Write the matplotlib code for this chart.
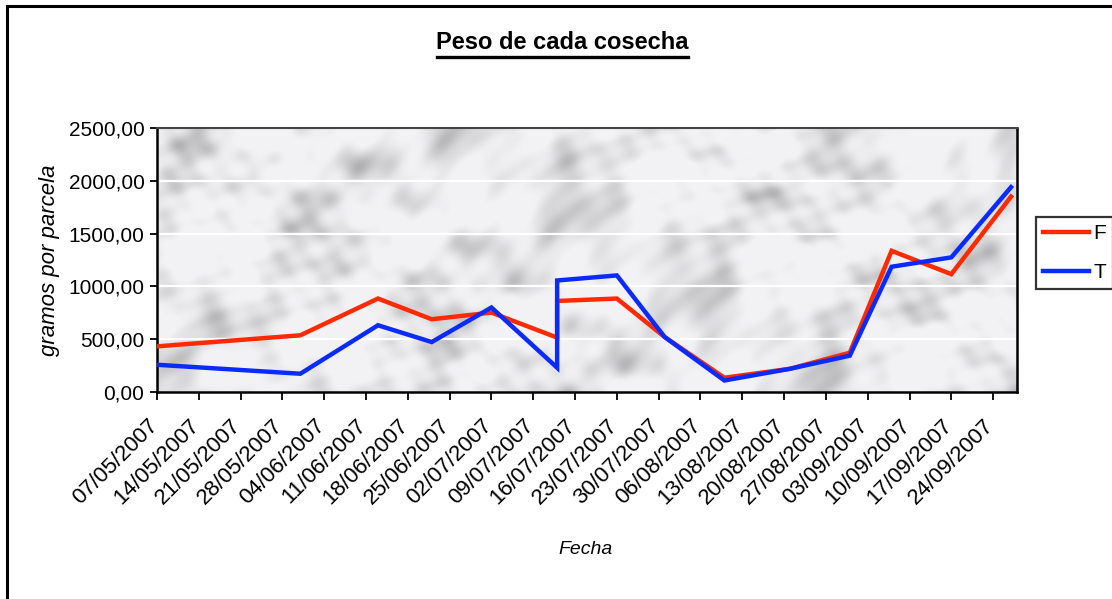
import numpy as np
import pandas as pd
import matplotlib
matplotlib.use('Agg')
import matplotlib.pyplot as plt
import matplotlib.transforms as mtransforms
from matplotlib.ticker import FuncFormatter
from matplotlib.patches import Rectangle
from matplotlib.lines import Line2D

plt.rcParams['font.family'] = ['Liberation Sans', 'DejaVu Sans']

# --- data ---
fechas = ['07/05/2007', '31/05/2007', '13/06/2007', '22/06/2007', '02/07/2007',
          '13/07/2007', '13/07/2007', '23/07/2007', '31/07/2007', '10/08/2007',
          '21/08/2007', '31/08/2007', '07/09/2007', '17/09/2007', '27/09/2007']
serie_F = [432, 537, 885, 689, 752, 515, 862, 885, 521, 135, 220, 372, 1337, 1116, 1850]
serie_T = [258, 173, 632, 473, 800, 230, 1056, 1104, 521, 109, 220, 344, 1186, 1275, 1940]
y_ticks = [0, 500, 1000, 1500, 2000, 2500]
primer_tick, ultimo_tick = '07/05/2007', '24/09/2007'

dates = pd.to_datetime(fechas, dayfirst=True)
tick_dates = pd.date_range(pd.to_datetime(primer_tick, dayfirst=True),
                           pd.to_datetime(ultimo_tick, dayfirst=True), freq='7D')

fig = plt.figure(figsize=(11.12, 5.99), dpi=100)
ax = fig.add_axes([157 / 1112, 1 - 392 / 599, (1017 - 157) / 1112, (392 - 128) / 599])

# marble-like background (decoration only, deterministic)
h, w = 264, 860
yy, xx = np.mgrid[0:h, 0:w].astype(float)
z = np.zeros_like(xx)
for k, (ang, per, amp) in enumerate([(0.8, 150, 1.0), (2.2, 100, 0.8), (0.5, 65, 0.7),
                                      (1.5, 45, 0.55), (2.7, 32, 0.4), (1.0, 22, 0.3)]):
    warp = 20 * np.sin(xx / (55 + 9 * k) - yy / (40 + 6 * k) + 0.9 * k)
    z += amp * np.sin((xx * np.cos(ang) + yy * np.sin(ang) + warp) * 2 * np.pi / per + k * 1.3)
z = (z - z.min()) / (z.max() - z.min())
dark = np.clip(z - 0.42, 0, None) / 0.58
tex = 0.95 - 0.26 * dark ** 1.5
rgb = np.dstack([tex, tex, tex + 0.012]).clip(0, 1)
ax.imshow(rgb, extent=[0, 1, 0, 1], transform=ax.transAxes, aspect='auto',
          zorder=0, interpolation='bilinear')

for yv in y_ticks[1:-1]:
    ax.axhline(yv, color='white', lw=1.6, zorder=1)

ax.plot(dates, serie_F, color='#ff2a00', lw=3.2, zorder=3, solid_joinstyle='miter')
ax.plot(dates, serie_T, color='#0a2bff', lw=3.2, zorder=4, solid_joinstyle='miter')

ax.set_xlim(dates[0], dates[-1] + pd.Timedelta(days=1))
ax.set_ylim(0, 2500)
ax.set_yticks(y_ticks)
ax.yaxis.set_major_formatter(FuncFormatter(lambda v, p: f'{v:.2f}'.replace('.', ',')))
ax.set_xticks(tick_dates)
ax.set_xticklabels([])
ax.tick_params(axis='y', labelsize=15, length=5, width=1.3, direction='out', pad=4)
ax.tick_params(axis='x', length=6, width=1.3, direction='out')

# date labels placed below each tick, shifted down-left like the original
lbl_tr = ax.get_xaxis_transform() + mtransforms.ScaledTranslation(-0.10, -0.23, fig.dpi_scale_trans)
for d in tick_dates:
    ax.text(d, 0, d.strftime('%d/%m/%Y'), transform=lbl_tr, rotation=45, fontsize=16,
            ha='right', va='top', rotation_mode='anchor', clip_on=False)

for s in ['left', 'bottom', 'right']:
    ax.spines[s].set_color('black')
    ax.spines[s].set_linewidth(1.8)
ax.spines['top'].set_color('#444444')
ax.spines['top'].set_linewidth(1.5)

ax.set_ylabel('gramos por parcela', fontsize=16, style='italic')
ax.yaxis.set_label_coords(-97 / 860, 0.5)
fig.text(586 / 1112, 1 - 550 / 599, 'Fecha', fontsize=14, style='italic',
         ha='center', va='center')

# title with underline
fig.text(562 / 1112, 1 - 49 / 599, 'Peso de cada cosecha', fontsize=17,
         weight='bold', ha='center', va='baseline')
fig.add_artist(Line2D([437 / 1112, 688 / 1112], [1 - 57 / 599, 1 - 57 / 599],
                      color='black', lw=2.4))

# legend
handles = [Line2D([], [], color='#ff2a00', lw=3.2), Line2D([], [], color='#0a2bff', lw=3.2)]
leg = fig.legend(handles, ['F', 'T'], loc='upper left',
                 bbox_to_anchor=(1036 / 1112, 1 - 217 / 599), fontsize=15,
                 frameon=True, fancybox=False, edgecolor='black', handlelength=2.2,
                 handletextpad=0.2, borderpad=0.35, borderaxespad=0, labelspacing=0.95)
leg.get_frame().set_linewidth(1.6)

# outer chart border
fig.add_artist(Rectangle((7 / 1112, -0.1), 1.2, 1 - 6 / 599 + 0.1, fill=False,
                         edgecolor='black', lw=2.2, transform=fig.transFigure))

fig.savefig('out.png', dpi=100)
